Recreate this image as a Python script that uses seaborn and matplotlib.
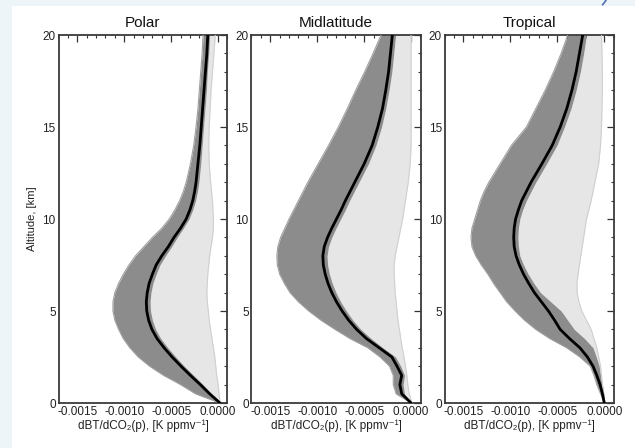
import numpy as np
import pandas as pd
import matplotlib
matplotlib.use("Agg")
import matplotlib.pyplot as plt
import seaborn as sns
from matplotlib.patches import Rectangle, Arc
from matplotlib.ticker import MultipleLocator, FuncFormatter

# ---------------- data (x values in units of 1e-4 K/ppmv) ----------------
PANELS = ["Polar", "Midlatitude", "Tropical"]
SCALE = 1e-4
ALT = [0, 0.5, 1, 1.5, 2, 2.5, 3, 3.5, 4, 4.5, 5, 5.5, 6, 6.5, 7, 7.5, 8, 8.5,
       9, 9.5, 10, 10.5, 11, 11.5, 12, 13, 14, 15, 16, 17, 18, 19, 20]

# Polar
POLAR_MEAN = [0.2, -0.9, -1.9, -2.95, -3.95, -4.9, -5.75, -6.5, -7.05, -7.4, -7.6, -7.65,
              -7.55, -7.35, -7.0, -6.6, -6.0, -5.3, -4.7, -4.0, -3.4, -3.0, -2.7, -2.5,
              -2.35, -2.15, -1.95, -1.8, -1.65, -1.5, -1.35, -1.2, -1.1]
POLAR_DARK_LO = [0.2, -2.4, -4.0, -5.8, -7.3, -8.5, -9.4, -10.1, -10.6, -11.0, -11.2, -11.2,
                 -11.0, -10.6, -10.1, -9.5, -8.8, -7.9, -7.0, -6.0, -5.2, -4.6, -4.1, -3.7,
                 -3.4, -2.95, -2.6, -2.35, -2.15, -2.0, -1.85, -1.7, -1.6]
POLAR_DARK_HI = [0.2, -0.7, -1.6, -2.6, -3.6, -4.5, -5.35, -6.1, -6.65, -7.0, -7.2, -7.25,
                 -7.15, -6.95, -6.6, -6.2, -5.6, -4.95, -4.35, -3.7, -3.1, -2.7, -2.4, -2.2,
                 -2.05, -1.85, -1.7, -1.55, -1.4, -1.25, -1.15, -1.0, -0.9]
POLAR_LIGHT_HI = [0.2, 0.1, 0.0, -0.15, -0.25, -0.35, -0.5, -0.65, -0.8, -0.95, -1.05, -1.15,
                  -1.2, -1.15, -1.1, -1.0, -0.9, -0.75, -0.6, -0.5, -0.5, -0.55, -0.6, -0.7,
                  -0.8, -0.95, -1.0, -0.95, -0.85, -0.75, -0.6, -0.45, -0.3]

# Midlatitude
MID_MEAN = [0.0, -1.0, -1.2, -1.0, -1.5, -2.05, -3.4, -4.75, -5.8, -6.65, -7.35, -7.95,
            -8.45, -8.85, -9.15, -9.35, -9.4, -9.25, -8.9, -8.45, -7.95, -7.45, -7.0, -6.5,
            -6.0, -5.0, -4.15, -3.55, -3.05, -2.7, -2.4, -2.2, -2.0]
MID_DARK_LO = [0.0, -1.6, -1.9, -1.9, -2.3, -3.3, -4.6, -6.5, -8.1, -9.6, -10.9, -12.0,
               -12.9, -13.5, -14.0, -14.25, -14.3, -14.2, -13.9, -13.45, -13.0, -12.5, -12.0,
               -11.5, -11.0, -9.9, -8.8, -7.75, -6.8, -5.9, -4.95, -4.05, -3.2]
MID_DARK_HI = [0.0, -0.7, -0.85, -0.7, -1.1, -1.65, -3.0, -4.25, -5.35, -6.2, -6.9, -7.5,
               -8.0, -8.4, -8.7, -8.9, -8.95, -8.8, -8.45, -8.0, -7.5, -7.0, -6.55, -6.05,
               -5.55, -4.55, -3.75, -3.15, -2.7, -2.35, -2.05, -1.85, -1.65]
MID_LIGHT_HI = [0.1, -0.2, -0.35, -0.45, -0.6, -0.75, -0.95, -1.1, -1.25, -1.4, -1.5, -1.6,
                -1.7, -1.75, -1.8, -1.8, -1.7, -1.5, -1.3, -1.1, -0.9, -0.75, -0.6, -0.45,
                -0.3, -0.1, 0.0, 0.0, 0.0, 0.0, 0.0, 0.0, 0.0]

# Tropical
TROP_MEAN = [0.0, -0.2, -0.45, -0.8, -1.2, -1.8, -2.6, -3.7, -4.7, -5.3, -5.95, -6.7,
             -7.45, -8.05, -8.6, -9.05, -9.4, -9.6, -9.65, -9.6, -9.45, -9.15, -8.8, -8.3,
             -7.8, -6.65, -5.55, -4.7, -4.0, -3.45, -3.0, -2.65, -2.3]
TROP_DARK_LO = [0.0, -0.4, -0.8, -1.1, -1.5, -2.6, -4.0, -5.8, -7.3, -8.5, -9.5, -10.4,
                -11.1, -11.8, -12.4, -13.1, -13.7, -14.1, -14.2, -14.1, -13.8, -13.5, -13.2,
                -12.8, -12.3, -11.1, -9.9, -8.3, -7.3, -6.3, -5.4, -4.6, -3.9]
TROP_DARK_HI = [0.0, -0.05, -0.2, -0.4, -0.55, -0.85, -1.2, -2.1, -3.2, -3.9, -4.6, -5.7,
                -6.8, -7.5, -8.1, -8.6, -9.0, -9.15, -9.2, -9.15, -9.0, -8.7, -8.3, -7.8,
                -7.3, -6.15, -5.05, -4.25, -3.55, -3.0, -2.55, -2.2, -1.9]
TROP_LIGHT_HI = [0.0, -0.1, -0.2, -0.3, -0.4, -0.6, -0.8, -1.1, -1.4, -1.9, -2.4, -2.7,
                 -2.9, -2.9, -2.8, -2.65, -2.5, -2.35, -2.2, -2.05, -1.9, -1.65, -1.4, -1.2,
                 -1.0, -0.6, -0.4, -0.3, -0.25, -0.2, -0.2, -0.25, -0.3]

SERIES = {
    "Polar": (POLAR_MEAN, POLAR_DARK_LO, POLAR_DARK_HI, POLAR_LIGHT_HI),
    "Midlatitude": (MID_MEAN, MID_DARK_LO, MID_DARK_HI, MID_LIGHT_HI),
    "Tropical": (TROP_MEAN, TROP_DARK_LO, TROP_DARK_HI, TROP_LIGHT_HI),
}

XLABEL = "dBT/dCO\u2082(p), [K ppmv\u207b\u00b9]"
YLABEL = "Altitude, [km]"

# ---------------- style ----------------
sns.set_theme(style="white")
plt.rcParams["font.family"] = ["Liberation Sans", "DejaVu Sans"]
plt.rcParams["axes.unicode_minus"] = False

W, H = 635, 448
fig = plt.figure(figsize=(W / 100, H / 100), dpi=100)
fig.patch.set_facecolor("#EDF5F8")
fig.patches.append(Rectangle((12 / W, 0), 1, (H - 6) / H, transform=fig.transFigure,
                             facecolor="white", edgecolor="none", zorder=-5))
fig.patches.append(Arc((560, 478), 110, 110, theta1=-40, theta2=-22,
                       transform=None, color="#5A78B8", lw=1.3, zorder=-4))

lefts = [58.5, 251.5, 444.7]
ax_w = 169
bottom_px, top_px = 403, 35

tick_fmt = FuncFormatter(lambda v, p: f"{round(v, 4) + 0.0:.4f}")

for i, name in enumerate(PANELS):
    mean, dlo, dhi, lhi = [np.asarray(s) * SCALE for s in SERIES[name]]
    alt = np.asarray(ALT, dtype=float)
    ax = fig.add_axes([lefts[i] / W, (H - bottom_px) / H, ax_w / W,
                       (bottom_px - top_px) / H])
    ax.set_facecolor("white")

    # light spread of profiles
    ax.fill_betweenx(alt, dhi, lhi, color="#e6e6e6", lw=0, zorder=1)
    # dark band of profiles
    ax.fill_betweenx(alt, dlo, dhi, color="#8c8c8c", lw=0, zorder=2)

    df = pd.DataFrame({"alt": alt, "lo": dlo, "lhi": lhi, "mean": mean})
    sns.lineplot(data=df, x="lo", y="alt", orient="y", ax=ax,
                 color="#a0a0a0", lw=0.8, zorder=3)
    sns.lineplot(data=df, x="lhi", y="alt", orient="y", ax=ax,
                 color="#d0d0d0", lw=0.8, zorder=3)
    sns.lineplot(data=df, x="mean", y="alt", orient="y", ax=ax,
                 color="black", lw=2.0, zorder=4)

    ax.set_xlim(-0.0017, 0.0001)
    ax.set_ylim(0, 20)
    ax.xaxis.set_major_locator(MultipleLocator(0.0005))
    ax.xaxis.set_minor_locator(MultipleLocator(0.0001))
    ax.xaxis.set_major_formatter(tick_fmt)
    ax.yaxis.set_major_locator(MultipleLocator(5))
    ax.yaxis.set_minor_locator(MultipleLocator(1))
    ax.tick_params(which="both", direction="in", top=True, right=True,
                   colors="#333333", labelcolor="#222222", labelsize=8.5, pad=2)
    ax.tick_params(which="major", length=5, width=0.9)
    ax.tick_params(which="minor", length=2.5, width=0.8)
    for sp in ax.spines.values():
        sp.set_color("#3a3a3a")
        sp.set_linewidth(1.3)

    ax.set_title(name, fontsize=11, pad=6, color="#111111")
    ax.set_xlabel(XLABEL, fontsize=8.5, labelpad=1, color="#222222")
    if i == 0:
        ax.set_ylabel(YLABEL, fontsize=8, labelpad=4, color="#222222")
    else:
        ax.set_ylabel("")

fig.savefig("out.png", dpi=100, facecolor=fig.get_facecolor())
